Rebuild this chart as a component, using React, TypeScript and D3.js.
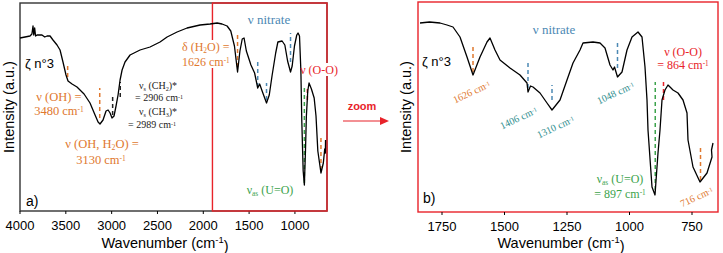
import React from "react";
import * as d3 from "d3";

// spectrum: [wavenumber cm-1, intensity a.u.]
const SPEC_A: [number, number][] = [
  [4000, 173], [3945, 174], [3891, 175], [3870, 177], [3858, 185], [3850, 176], [3840, 183], [3830, 175],
  [3814, 176], [3760, 176], [3730, 174], [3705, 175], [3672, 175], [3640, 171], [3596, 166], [3563, 161],
  [3531, 149], [3498, 136], [3476, 130], [3432, 127], [3378, 124], [3301, 117], [3236, 108], [3181, 96],
  [3148, 89], [3127, 87], [3094, 91], [3061, 100], [3039, 101], [3017, 98], [2996, 93], [2974, 95],
  [2952, 105], [2930, 116], [2908, 131], [2886, 141], [2854, 149], [2799, 156], [2690, 161], [2581, 164],
  [2472, 169], [2395, 174], [2286, 179], [2177, 183], [2035, 186], [1926, 187], [1849, 188], [1795, 187],
  [1740, 185], [1700, 180], [1660, 165], [1626, 139], [1600, 160], [1575, 172], [1555, 173], [1530, 160],
  [1480, 146], [1440, 138], [1406, 123], [1385, 127], [1350, 118], [1310, 108], [1280, 116], [1250, 135],
  [1210, 158], [1186, 169], [1140, 170], [1110, 166], [1080, 150], [1048, 139], [1030, 145], [1005, 165],
  [980, 176], [966, 178], [950, 175], [935, 140], [925, 90], [910, 40], [897, 26], [885, 60], [875, 95],
  [860, 120], [846, 128], [820, 122], [790, 113], [770, 95], [750, 60], [716, 38], [690, 48], [675, 62],
  [668, 58], [666, 71],
];

// spectrum (zoom 1850-650 cm-1)
const SPEC_B: [number, number][] = [
  [1838, 189], [1800, 190], [1758, 189], [1730, 187], [1706, 185], [1678, 175], [1650, 155], [1626, 137],
  [1598, 155], [1570, 170], [1558, 174], [1538, 162], [1518, 152], [1478, 144], [1438, 137], [1410, 129],
  [1406, 120], [1396, 126], [1386, 125], [1358, 119], [1330, 109], [1310, 102], [1278, 112], [1250, 132],
  [1226, 149], [1198, 162], [1186, 169], [1146, 170], [1118, 169], [1098, 164], [1078, 147], [1066, 142],
  [1060, 145], [1048, 135], [1030, 140], [1010, 162], [990, 175], [966, 180], [950, 175], [938, 145],
  [930, 112], [926, 82], [910, 25], [898, 17], [886, 59], [878, 82], [870, 112], [858, 122], [846, 127],
  [826, 122], [806, 119], [786, 112], [770, 99], [766, 72], [746, 45], [718, 30], [690, 39], [670, 55],
  [672, 62], [666, 69],
];

const TICKS_A = [4000, 3500, 3000, 2500, 2000, 1500, 1000];
const TICKS_B = [1750, 1500, 1250, 1000, 750];

type Mark = { w: number; lo: number; hi: number; color: string };

const ORANGE = "#E0782E";
const BLUE = "#4C89B4";
const TEAL = "#2E8E8E";
const GREEN = "#3DA34C";
const RED = "#E8232A";

const MARKS_A: Mark[] = [
  { w: 3480, lo: 134, hi: 148, color: ORANGE },
  { w: 3130, lo: 93, hi: 123, color: ORANGE },
  { w: 2989, lo: 96, hi: 114, color: "#222" },
  { w: 2906, lo: 114, hi: 129, color: "#222" },
  { w: 1626, lo: 144, hi: 176, color: ORANGE },
  { w: 1406, lo: 124, hi: 151, color: BLUE },
  { w: 1310, lo: 111, hi: 128, color: BLUE },
  { w: 1048, lo: 149, hi: 178, color: BLUE },
  { w: 897, lo: 28, hi: 123, color: GREEN },
  { w: 864, lo: 111, hi: 123, color: RED },
  { w: 716, lo: 41, hi: 73, color: ORANGE },
];

const MARKS_B: Mark[] = [
  { w: 1626, lo: 140, hi: 165, color: ORANGE },
  { w: 1406, lo: 124, hi: 149, color: BLUE },
  { w: 1310, lo: 112, hi: 127, color: BLUE },
  { w: 1048, lo: 144, hi: 169, color: BLUE },
  { w: 897, lo: 22, hi: 130, color: GREEN },
  { w: 864, lo: 112, hi: 130, color: RED },
  { w: 716, lo: 32, hi: 65, color: ORANGE },
];

const SANS = "'Liberation Sans', Arial, sans-serif";
const SERIF = "'Liberation Serif', 'Times New Roman', serif";

const Cm = () => (
  <>
    {" cm"}
    <tspan fontSize="0.6em" dy="-0.35em">-1</tspan>
  </>
);
const Sub = ({ t }: { t: string }) => (
  <tspan fontSize="0.62em" dy="1.5">{t}</tspan>
);

function Axis({ x, ticks, y0 }: { x: d3.ScaleLinear<number, number>; ticks: number[]; y0: number }) {
  return (
    <g>
      {ticks.map((t) => (
        <g key={t}>
          <line x1={x(t)} x2={x(t)} y1={y0} y2={y0 + 3} stroke="#000" strokeWidth={1} />
          <text x={x(t)} y={y0 + 19} textAnchor="middle" fontFamily={SANS} fontSize={13}>{t}</text>
        </g>
      ))}
    </g>
  );
}

export default function App() {
  const xa = d3.scaleLinear().domain([4000, 650]).range([20, 327]);
  const ya = d3.scaleLinear().domain([0, 208]).range([211, 3]);
  const xb = d3.scaleLinear().domain([1846, 646]).range([418, 718]);
  const yb = d3.scaleLinear().domain([0, 210]).range([212, 2]);
  const lineA = d3.line<[number, number]>().x((d) => xa(d[0])).y((d) => ya(d[1]));
  const lineB = d3.line<[number, number]>().x((d) => xb(d[0])).y((d) => yb(d[1]));

  const boxL = xa(1900);

  return (
    <svg width={723} height={253} style={{ position: "absolute", left: 0, top: 0, background: "#fff" }}>
      {/* ---------- panel a ---------- */}
      <text transform="translate(14,107) rotate(-90)" textAnchor="middle" fontFamily={SANS} fontSize={14.5}>Intensity (a.u.)</text>
      <rect x={20} y={3} width={307} height={208} fill="none" stroke="#333" strokeWidth={1.4} />
      <Axis x={xa} ticks={TICKS_A} y0={211} />
      <text x={165} y={248} textAnchor="middle" fontFamily={SANS} fontSize={14.5}>Wavenumber (cm<tspan fontSize="0.65em" dy="-0.5em">-1</tspan><tspan dy="0.5em">)</tspan></text>
      <rect x={boxL} y={3} width={327 - boxL} height={208} fill="none" stroke={RED} strokeWidth={1.4} />

      {MARKS_A.map((m, i) => (
        <line key={i} x1={xa(m.w)} x2={xa(m.w)} y1={ya(m.lo)} y2={ya(m.hi)} stroke={m.color} strokeWidth={1.5} strokeDasharray="4,3" />
      ))}
      <path d={lineA(SPEC_A) ?? ""} fill="none" stroke="#000" strokeWidth={1.3} strokeLinejoin="round" />

      <text x={25} y={68} fontFamily={SANS} fontSize={13}>ζ n°3</text>
      <text x={26} y={206} fontFamily={SANS} fontSize={14}>a)</text>

      <g fontFamily={SERIF} fill={ORANGE} fontSize={12.5} textAnchor="middle">
        <text x={59} y={101}>ν (OH) =</text>
        <text x={59} y={115}>3480<Cm /></text>
        <text x={102} y={148}>ν (OH, H<Sub t="2" /><tspan dy="-1.5">O) =</tspan></text>
        <text x={101} y={164}>3130<Cm /></text>
      </g>
      <g fontFamily={SERIF} fill="#222" fontSize={10} textAnchor="middle">
        <text x={158} y={89}>ν<Sub t="s" /><tspan dy="-1.5"> (CH</tspan><Sub t="2" /><tspan dy="-1.5">)*</tspan></text>
        <text x={159} y={101}>= 2906<Cm /></text>
        <text x={158} y={115}>ν<Sub t="s" /><tspan dy="-1.5"> (CH</tspan><Sub t="3" /><tspan dy="-1.5">)*</tspan></text>
        <text x={152} y={128}>= 2989<Cm /></text>
      </g>
      <rect x={181} y={40} width={42} height={28} fill="#fff" />
      <g fontFamily={SERIF} fill={ORANGE} fontSize={12}>
        <text x={182} y={51}>δ (H<Sub t="2" /><tspan dy="-1.5">O) =</tspan></text>
        <text x={182} y={66}>1626<Cm /></text>
      </g>
      <text x={269} y={24} fontFamily={SERIF} fill={BLUE} fontSize={13} textAnchor="middle">ν nitrate</text>
      <rect x={302} y={63} width={33} height={13} fill="#fff" />
      <text x={319} y={74} fontFamily={SERIF} fill={RED} fontSize={12} textAnchor="middle">ν (O-O)</text>
      <text x={270} y={194} fontFamily={SERIF} fill={GREEN} fontSize={12} textAnchor="middle">ν<Sub t="as" /><tspan dy="-1.5"> (U=O)</tspan></text>

      {/* ---------- zoom arrow ---------- */}
      <text x={362} y={110} textAnchor="middle" fontFamily={SANS} fontWeight="bold" fontSize={11} fill={RED}>zoom</text>
      <line x1={343} y1={121} x2={381} y2={121} stroke={RED} strokeWidth={1.2} />
      <path d="M380,117 L389,121 L380,125 Z" fill={RED} />

      {/* ---------- panel b ---------- */}
      <text transform="translate(411,107) rotate(-90)" textAnchor="middle" fontFamily={SANS} fontSize={14.5}>Intensity (a.u.)</text>
      <rect x={418} y={2} width={300} height={210} fill="none" stroke={RED} strokeWidth={1.4} />
      <Axis x={xb} ticks={TICKS_B} y0={212} />
      <text x={561} y={248} textAnchor="middle" fontFamily={SANS} fontSize={14.5}>Wavenumber (cm<tspan fontSize="0.65em" dy="-0.5em">-1</tspan><tspan dy="0.5em">)</tspan></text>

      {MARKS_B.map((m, i) => (
        <line key={i} x1={xb(m.w)} x2={xb(m.w)} y1={yb(m.lo)} y2={yb(m.hi)} stroke={m.color} strokeWidth={1.5} strokeDasharray="4,3" />
      ))}
      <path d={lineB(SPEC_B) ?? ""} fill="none" stroke="#000" strokeWidth={1.3} strokeLinejoin="round" />

      <text x={422} y={66} fontFamily={SANS} fontSize={13}>ζ n°3</text>
      <text x={423} y={203} fontFamily={SANS} fontSize={14}>b)</text>
      <text x={554} y={34} fontFamily={SERIF} fill={BLUE} fontSize={13} textAnchor="middle">ν nitrate</text>

      <g fontFamily={SERIF} fontSize={10} textAnchor="middle">
        <text transform="translate(473,95) rotate(-25)" fill={ORANGE}>1626<Cm /></text>
        <text transform="translate(520,121) rotate(-25)" fill={TEAL}>1406<Cm /></text>
        <text transform="translate(557,130) rotate(-25)" fill={TEAL}>1310<Cm /></text>
        <text transform="translate(617,96) rotate(-25)" fill={TEAL}>1048<Cm /></text>
        <text transform="translate(698,200) rotate(-25)" fill={ORANGE}>716<Cm /></text>
      </g>
      <g fontFamily={SERIF} fill={RED} fontSize={12} textAnchor="middle">
        <text x={683} y={56}>ν (O-O)</text>
        <text x={683} y={69}>= 864<Cm /></text>
      </g>
      <g fontFamily={SERIF} fill={GREEN} fontSize={12} textAnchor="middle">
        <text x={620} y={183}>ν<Sub t="as" /><tspan dy="-1.5"> (U=O)</tspan></text>
        <text x={620} y={198}>= 897<Cm /></text>
      </g>
    </svg>
  );
}
